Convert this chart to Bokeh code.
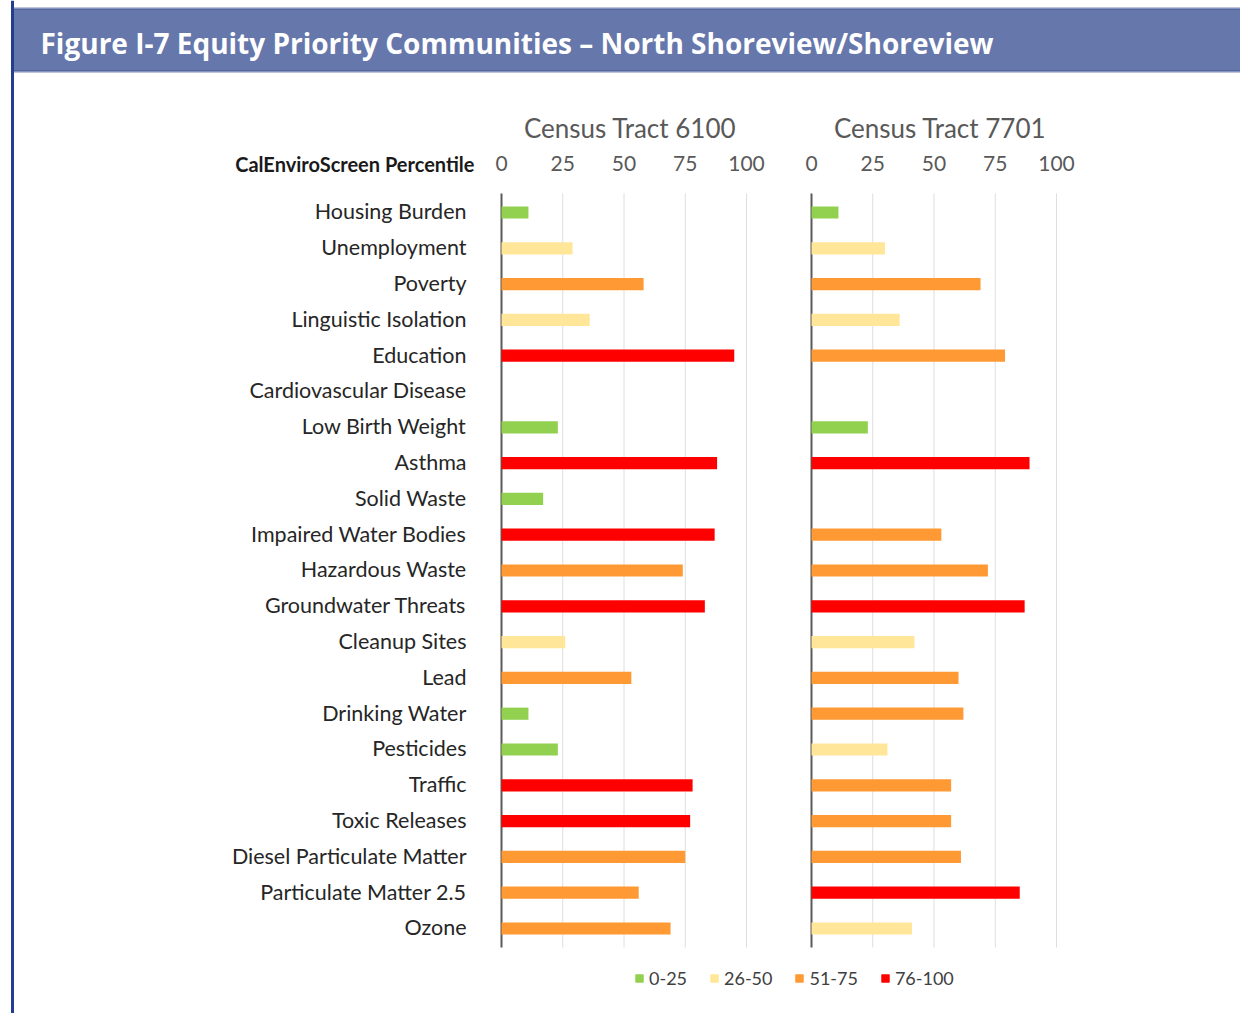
from bokeh.plotting import figure
from bokeh.models import Range1d, BoxAnnotation, Span, Label, Legend, LegendItem, ColumnDataSource
from bokeh.core.properties import value
from bokeh.embed import file_html
from bokeh.resources import INLINE

# ---------------- data ----------------
categories = ["Housing Burden", "Unemployment", "Poverty", "Linguistic Isolation", "Education",
              "Cardiovascular Disease", "Low Birth Weight", "Asthma", "Solid Waste",
              "Impaired Water Bodies", "Hazardous Waste", "Groundwater Threats", "Cleanup Sites",
              "Lead", "Drinking Water", "Pesticides", "Traffic", "Toxic Releases",
              "Diesel Particulate Matter", "Particulate Matter 2.5", "Ozone"]
tract_6100 = [11, 29, 58, 36, 95, 0, 23, 88, 17, 87, 74, 83, 26, 53, 11, 23, 78, 77, 75, 56, 69]
class_6100 = ["0-25", "26-50", "51-75", "26-50", "76-100", None, "0-25", "76-100", "0-25", "76-100",
              "51-75", "76-100", "26-50", "51-75", "0-25", "0-25", "76-100", "76-100", "51-75",
              "51-75", "51-75"]
tract_7701 = [11, 30, 69, 36, 79, 0, 23, 89, 0, 53, 72, 87, 42, 60, 62, 31, 57, 57, 61, 85, 41]
class_7701 = ["0-25", "26-50", "51-75", "26-50", "51-75", None, "0-25", "76-100", None, "51-75",
              "51-75", "76-100", "26-50", "51-75", "51-75", "26-50", "51-75", "51-75", "51-75",
              "76-100", "26-50"]
classes = ["0-25", "26-50", "51-75", "76-100"]
class_colors = ["#92d050", "#ffe699", "#ff9933", "#ff0000"]
ticks = [0, 25, 50, 75, 100]
tick_labels = ["0", "25", "50", "75", "100"]
panel_titles = ["Census Tract 6100", "Census Tract 7701"]
title = "Figure I-7 Equity Priority Communities \u2013 North Shoreview/Shoreview"
axis_title = "CalEnviroScreen Percentile"

# ---------------- layout (image pixels) ----------------
W, H = 1240, 1013
X0L, X0R, PXU = 501.0, 811.0, 2.45
ROW0, ROWH = 212.0, 35.8

def dx(px):
    return (px - X0L) / PXU

def dy(py):
    return (py - ROW0) / ROWH

p = figure(width=W, height=H, output_backend="svg", toolbar_location=None,
           x_axis_location=None, y_axis_location=None, min_border=0,
           x_range=Range1d(dx(0), dx(W)),
           y_range=Range1d(dy(H), dy(0)))
p.extra_x_ranges = {"r": Range1d((0 - X0R) / PXU, (W - X0R) / PXU)}
p.outline_line_color = None
p.background_fill_color = "white"
p.border_fill_color = "white"
p.grid.visible = False

# header band and frame
header = BoxAnnotation(left=dx(12), right=dx(W + 20), bottom=dy(71), top=dy(8),
                       fill_color="#6677ab", fill_alpha=1.0,
                       line_color="#243d8c", line_width=3, level="underlay")
p.add_layout(header)
p.add_layout(Span(location=dx(12), dimension="height", line_color="#243d8c", line_width=3))
p.add_layout(Label(x=dx(40), y=dy(42), text=title, text_color="white",
                   text_font="Open Sans", text_font_style="bold",
                   text_font_size="28px", text_baseline="middle"))

rows = list(range(len(categories)))
ylo, yhi = -0.53, len(categories) - 0.47

for rname, pt in [("default", panel_titles[0]), ("r", panel_titles[1])]:
    p.segment(x0=ticks[1:], x1=ticks[1:], y0=[ylo] * 4, y1=[yhi] * 4,
              line_color="#dedede", line_width=1, x_range_name=rname)
    p.segment(x0=[0], x1=[0], y0=[ylo], y1=[yhi], line_color="#5a5a5a", line_width=2,
              x_range_name=rname)
    p.text(x=ticks, y=[dy(163)] * 5, text=tick_labels, text_align="center",
           text_baseline="middle", text_color="#595959", text_font=value("Lato"),
           text_font_size="21px", x_range_name=rname)
    p.text(x=[52.5], y=[dy(127.5)], text=[pt], text_align="center", text_baseline="middle",
           text_color="#595959", text_font=value("Lato"), text_font_size="26px",
           x_range_name=rname)

# bars by class
renderers = {c: [] for c in classes}
for rname, vals, cls in [("default", tract_6100, class_6100), ("r", tract_7701, class_7701)]:
    for c, col in zip(classes, class_colors):
        ys = [r for r, k in zip(rows, cls) if k == c]
        vs = [v for v, k in zip(vals, cls) if k == c]
        src = ColumnDataSource(dict(y=ys, right=vs))
        r = p.hbar(y="y", left=0, right="right", height=0.34, fill_color=col,
                   line_color=None, source=src, x_range_name=rname)
        renderers[c].append(r)

# category labels
p.text(x=[dx(466)] * len(categories), y=[r - 0.03 for r in rows], text=categories,
       text_align="right", text_baseline="middle", text_color="#262626",
       text_font=value("Lato"), text_font_size="21.5px")
p.text(x=[dx(474)], y=[dy(163)], text=[axis_title], text_align="right",
       text_baseline="middle", text_color="#1a1a1a", text_font=value("Lato"),
       text_font_style="bold", text_font_size="20px")

legend = Legend(items=[LegendItem(label=c, renderers=renderers[c]) for c in classes],
                orientation="horizontal", location=(634, 24), padding=0, margin=0,
                spacing=22, label_standoff=5, glyph_width=10, glyph_height=10,
                label_text_font="Lato", label_text_font_size="18px",
                label_text_color="#404040", border_line_alpha=0,
                background_fill_alpha=0)
p.add_layout(legend)

open("out.html", "w").write(file_html(p, INLINE))
